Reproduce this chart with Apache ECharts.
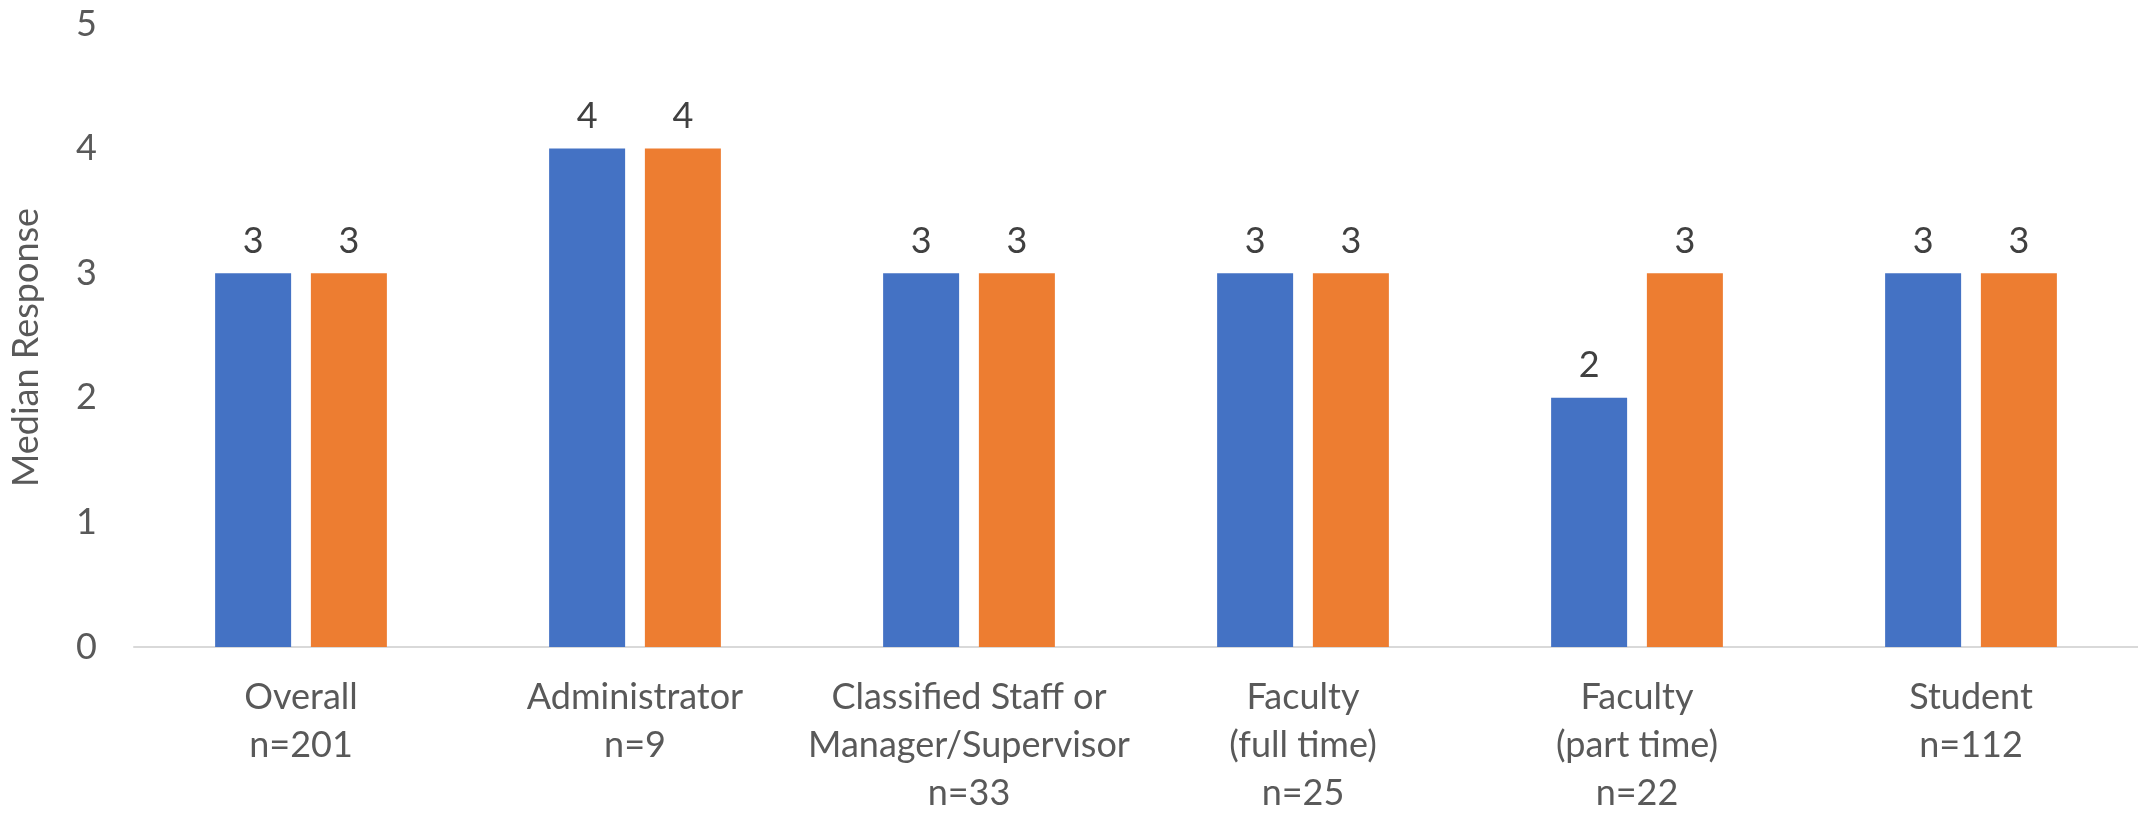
<!DOCTYPE html>
<html>
<head>
<meta charset="utf-8">
<script src="https://cdn.jsdelivr.net/npm/echarts@6/dist/echarts.min.js"></script>
<style>html,body{margin:0;padding:0;background:#fff;}#c{width:2138px;height:817px;}</style>
</head>
<body>
<div id="c"></div>
<script>
const categories = ['Overall\nn=201', 'Administrator\nn=9', 'Classified Staff or\nManager/Supervisor\nn=33', 'Faculty\n(full time)\nn=25', 'Faculty\n(part time)\nn=22', 'Student\nn=112'];
const seriesA = [3, 4, 3, 3, 2, 3];
const seriesB = [3, 4, 3, 3, 3, 3];
const yTicks = [0, 1, 2, 3, 4, 5];
const yTitle = 'Median Response';

const FONT = 'Lato';
const chart = echarts.init(document.getElementById('c'), null, {renderer: 'canvas'});
chart.setOption({
  animation: false,
  backgroundColor: '#ffffff',
  textStyle: {fontFamily: FONT},
  grid: {left: 133, top: 24, width: 2010, height: 628, containLabel: false},
  xAxis: {
    type: 'category',
    data: categories,
    axisTick: {show: false},
    axisLine: {show: true, lineStyle: {color: '#d9d9d9', width: 2}},
    axisLabel: {interval: 0, color: '#595959', fontSize: 36, fontFamily: FONT, lineHeight: 48, margin: 26}
  },
  yAxis: {
    type: 'value',
    min: yTicks[0],
    max: yTicks[yTicks.length - 1],
    interval: 1,
    name: yTitle,
    nameLocation: 'middle',
    nameGap: 90,
    nameTextStyle: {color: '#595959', fontSize: 36, fontFamily: FONT, padding: [0, 24, 0, 0]},
    splitLine: {show: false},
    axisLine: {show: false},
    axisTick: {show: false},
    axisLabel: {color: '#595959', fontSize: 36, fontFamily: FONT, margin: 37}
  },
  series: [
    {
      name: 'Series 1', type: 'bar', data: seriesA, barWidth: 76, barGap: '26%',
      itemStyle: {color: '#4472C4'},
      label: {show: true, position: 'top', distance: 14, color: '#404040', fontSize: 36, fontFamily: FONT}
    },
    {
      name: 'Series 2', type: 'bar', data: seriesB, barWidth: 76, barGap: '26%',
      itemStyle: {color: '#ED7D31'},
      label: {show: true, position: 'top', distance: 14, color: '#404040', fontSize: 36, fontFamily: FONT}
    }
  ]
});
</script>
</body>
</html>
